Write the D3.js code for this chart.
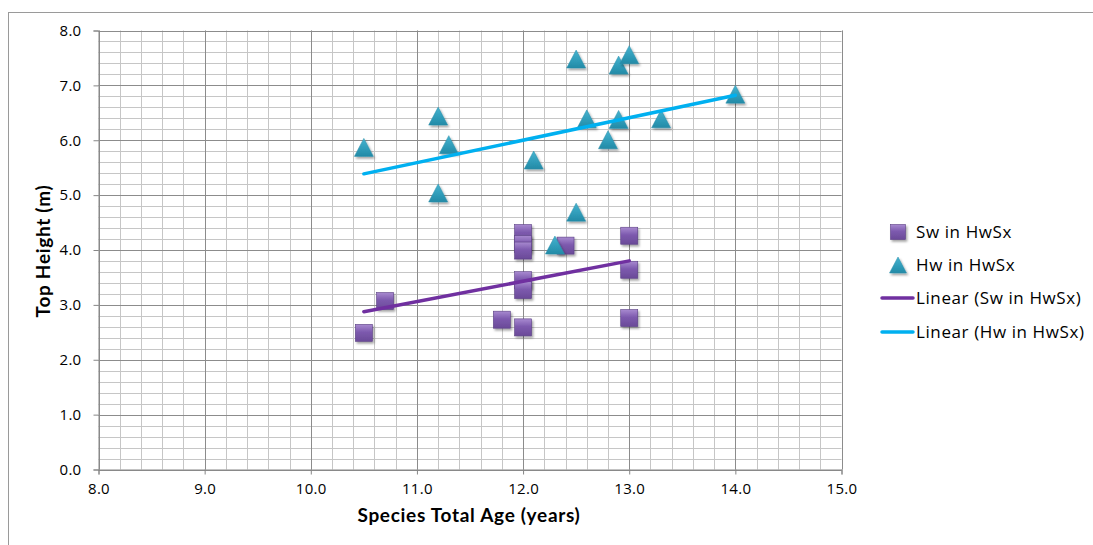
<!DOCTYPE html>
<html>
<head>
<meta charset="utf-8">
<script src="https://cdn.jsdelivr.net/npm/d3@7"></script>
<style>
  html, body { margin: 0; padding: 0; background: #fff; }
  svg { display: block; }
  text { font-family: "Open Sans", "DejaVu Sans", sans-serif; fill: #000; }
</style>
</head>
<body>
<svg id="chart" width="1093" height="545"></svg>
<script>
// ---- Data ----
const swAge    = [10.5, 10.7, 12.0, 12.0, 12.0, 12.0, 12.0, 12.0, 11.8, 12.4, 13.0, 13.0, 13.0];
const swHeight = [2.49, 3.07, 4.31, 4.11, 3.99, 3.45, 3.27, 2.59, 2.73, 4.08, 4.26, 3.64, 2.76];

const hwAge    = [10.5, 11.2, 11.3, 11.2, 12.1, 12.5, 12.9, 13.0, 14.0, 12.6, 12.9, 13.3, 12.8, 12.5, 12.3];
const hwHeight = [5.87, 6.44, 5.92, 5.04, 5.64, 7.48, 7.37, 7.56, 6.84, 6.39, 6.38, 6.39, 6.01, 4.69, 4.09];

const xTicks = [8.0, 9.0, 10.0, 11.0, 12.0, 13.0, 14.0, 15.0];
const yTicks = [0.0, 1.0, 2.0, 3.0, 4.0, 5.0, 6.0, 7.0, 8.0];

const seriesNames = ["Sw in HwSx", "Hw in HwSx", "Linear (Sw in HwSx)", "Linear (Hw in HwSx)"];
const xTitle = "Species Total Age (years)";
const yTitle = "Top Height (m)";

// ---- Layout ----
const svg = d3.select("#chart");
const x = d3.scaleLinear().domain([8, 15]).range([98.5, 841.5]);
const y = d3.scaleLinear().domain([0, 8]).range([469.5, 30.5]);

// defs: gradients + shadow
const defs = svg.append("defs");
const gSq = defs.append("linearGradient").attr("id", "gSq").attr("x1", 0).attr("y1", 0).attr("x2", 0).attr("y2", 1);
gSq.append("stop").attr("offset", "0%").attr("stop-color", "#a88ad0");
gSq.append("stop").attr("offset", "45%").attr("stop-color", "#7d5aae");
gSq.append("stop").attr("offset", "100%").attr("stop-color", "#6a4a98");
const gTr = defs.append("linearGradient").attr("id", "gTr").attr("x1", 0).attr("y1", 0).attr("x2", 0).attr("y2", 1);
gTr.append("stop").attr("offset", "0%").attr("stop-color", "#46b3cf");
gTr.append("stop").attr("offset", "60%").attr("stop-color", "#2f9bb8");
gTr.append("stop").attr("offset", "100%").attr("stop-color", "#238aa6");
const sh = defs.append("filter").attr("id", "shadow").attr("x", "-50%").attr("y", "-50%").attr("width", "200%").attr("height", "200%");
sh.append("feDropShadow").attr("dx", 1.5).attr("dy", 2).attr("stdDeviation", 1.3).attr("flood-color", "#000").attr("flood-opacity", 0.35);

// outer chart border
svg.append("rect").attr("x", 8.5).attr("y", 12.5).attr("width", 1090).attr("height", 540)
  .attr("fill", "none").attr("stroke", "#9a9a9a").attr("stroke-width", 1);

// grid
const minorX = d3.range(8, 15.0001, 0.2).map(v => +v.toFixed(1));
const minorY = d3.range(0, 8.0001, 0.2).map(v => +v.toFixed(1));
const grid = svg.append("g");
grid.selectAll("line.mx").data(minorX).join("line")
  .attr("x1", d => Math.round(x(d)) + 0.5).attr("x2", d => Math.round(x(d)) + 0.5)
  .attr("y1", y(8)).attr("y2", y(0)).attr("stroke", "#c6c6c6").attr("stroke-width", 1);
grid.selectAll("line.my").data(minorY).join("line")
  .attr("y1", d => Math.round(y(d)) + 0.5).attr("y2", d => Math.round(y(d)) + 0.5)
  .attr("x1", x(8)).attr("x2", x(15)).attr("stroke", "#c6c6c6").attr("stroke-width", 1);
grid.selectAll("line.Mx").data(xTicks).join("line")
  .attr("x1", d => Math.round(x(d)) + 0.5).attr("x2", d => Math.round(x(d)) + 0.5)
  .attr("y1", y(8)).attr("y2", y(0)).attr("stroke", "#8c8c8c").attr("stroke-width", 1);
grid.selectAll("line.My").data(yTicks).join("line")
  .attr("y1", d => Math.round(y(d)) + 0.5).attr("y2", d => Math.round(y(d)) + 0.5)
  .attr("x1", x(8)).attr("x2", x(15)).attr("stroke", "#8c8c8c").attr("stroke-width", 1);

// axes
const xAxis = d3.axisBottom(x).tickValues(xTicks).tickFormat(d3.format(".1f")).tickSize(5).tickPadding(9);
const yAxis = d3.axisLeft(y).tickValues(yTicks).tickFormat(d3.format(".1f")).tickSize(5).tickPadding(12);
const gx = svg.append("g").attr("transform", `translate(0,${y(0)})`).call(xAxis);
const gy = svg.append("g").attr("transform", `translate(${x(8)},0)`).call(yAxis);
[gx, gy].forEach(g => {
  g.select(".domain").attr("stroke", "#868686");
  g.selectAll(".tick line").attr("stroke", "#868686");
  g.selectAll(".tick text").style("font-family", "'Open Sans', sans-serif").style("font-size", "15px")
    .style("letter-spacing", "0.3px").attr("fill", "#000");
});

// titles
svg.append("text").attr("x", 469).attr("y", 522).attr("text-anchor", "middle")
  .style("font-family", "Lato, 'Open Sans', sans-serif")
  .style("font-weight", "bold").style("font-size", "19px").style("letter-spacing", "0.7px").text(xTitle);
svg.append("text").attr("transform", `translate(50,251) rotate(-90)`).attr("text-anchor", "middle")
  .style("font-family", "Lato, 'Open Sans', sans-serif")
  .style("font-weight", "bold").style("font-size", "19px").style("letter-spacing", "0.7px").text(yTitle);

// regression
function regress(xs, ys) {
  const mx = d3.mean(xs), my = d3.mean(ys);
  let sxy = 0, sxx = 0;
  xs.forEach((v, i) => { sxy += (v - mx) * (ys[i] - my); sxx += (v - mx) * (v - mx); });
  const b = sxy / sxx, a = my - b * mx;
  const x0 = d3.min(xs), x1 = d3.max(xs);
  return [[x0, a + b * x0], [x1, a + b * x1]];
}

const line = d3.line().x(d => x(d[0])).y(d => y(d[1]));

// markers
const sqSize = 17;
const swData = swAge.map((v, i) => [v, swHeight[i]]);
const hwData = hwAge.map((v, i) => [v, hwHeight[i]]);

function drawSquare(g, cx, cy, s) {
  g.append("rect").attr("x", cx - s / 2).attr("y", cy - s / 2).attr("width", s).attr("height", s)
    .attr("fill", "url(#gSq)").attr("stroke", "#5a3f84").attr("stroke-width", 0.6)
    .attr("filter", "url(#shadow)");
}
function drawTriangle(g, cx, cy, w, h) {
  g.append("path").attr("d", `M${cx},${cy - h / 2}L${cx + w / 2},${cy + h / 2}L${cx - w / 2},${cy + h / 2}Z`)
    .attr("fill", "url(#gTr)").attr("stroke", "#2a8fab").attr("stroke-width", 0.5)
    .attr("filter", "url(#shadow)");
}

const gSw = svg.append("g");
swData.forEach(d => drawSquare(gSw, x(d[0]), y(d[1]), sqSize));
const gHw = svg.append("g");
hwData.forEach(d => drawTriangle(gHw, x(d[0]), y(d[1]), 19, 18));

// trendlines
svg.append("path").datum(regress(swAge, swHeight)).attr("d", line)
  .attr("fill", "none").attr("stroke", "#7030a0").attr("stroke-width", 3.5).attr("stroke-linecap", "round");
svg.append("path").datum(regress(hwAge, hwHeight)).attr("d", line)
  .attr("fill", "none").attr("stroke", "#00b0f0").attr("stroke-width", 3.5).attr("stroke-linecap", "round");

// legend
const lg = svg.append("g");
const legY = [232, 265, 298, 332];
drawSquare(lg, 898, legY[0], 15);
drawTriangle(lg, 898, legY[1], 17, 16);
lg.append("line").attr("x1", 882).attr("x2", 913).attr("y1", legY[2]).attr("y2", legY[2])
  .attr("stroke", "#7030a0").attr("stroke-width", 3.5).attr("stroke-linecap", "round");
lg.append("line").attr("x1", 882).attr("x2", 913).attr("y1", legY[3]).attr("y2", legY[3])
  .attr("stroke", "#00b0f0").attr("stroke-width", 3.5).attr("stroke-linecap", "round");
lg.selectAll("text.leg").data(seriesNames).join("text")
  .attr("x", 916).attr("y", (d, i) => legY[i]).attr("dy", "0.36em")
  .style("font-family", "'Open Sans', sans-serif").style("font-size", "17px")
  .style("letter-spacing", "0.6px")
  .text(d => d);
</script>
</body>
</html>
